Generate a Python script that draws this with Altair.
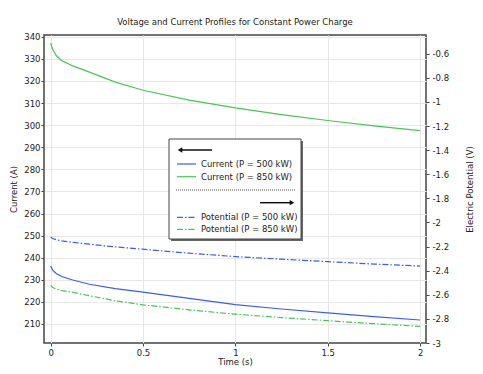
import altair as alt
import pandas as pd

# ---- data ----
t = [0, 0.01, 0.03, 0.06, 0.12, 0.21, 0.35, 0.5, 0.75, 1.0, 1.25, 1.5, 1.75, 2.0]
cur500 = [236.3, 234.5, 232.9, 231.5, 229.9, 228.0, 226.0, 224.4, 221.6, 218.8, 216.8, 215.0, 213.3, 211.8]
cur850 = [337.3, 334.5, 331.5, 329.2, 326.8, 324.0, 319.5, 315.8, 311.3, 307.8, 304.8, 302.1, 299.7, 297.5]
pot500 = [-2.121, -2.133, -2.143, -2.153, -2.165, -2.180, -2.203, -2.222, -2.255, -2.283, -2.305, -2.325, -2.345, -2.362]
pot850 = [-2.521, -2.538, -2.553, -2.565, -2.580, -2.608, -2.650, -2.683, -2.725, -2.761, -2.789, -2.815, -2.840, -2.862]

series = ["P = 500 kW", "P = 850 kW"]
x_ticks = [0, 0.5, 1, 1.5, 2]
left_ticks = list(range(210, 341, 10))
right_ticks = [-3, -2.8, -2.6, -2.4, -2.2, -2, -1.8, -1.6, -1.4, -1.2, -1, -0.8, -0.6]
legend_labels = ["Current (P = 500 kW)", "Current (P = 850 kW)",
                 "Potential (P = 500 kW)", "Potential (P = 850 kW)"]

BLUE = "#3d5cf2"
GREEN = "#4cc359"
FONT = "DejaVu Sans"
FS = 8.5

cur_df = pd.DataFrame({"t": t * 2, "I": cur500 + cur850,
                       "s": [series[0]] * len(t) + [series[1]] * len(t)})
pot_df = pd.DataFrame({"t": t * 2, "V": pot500 + pot850,
                       "s": [series[0]] * len(t) + [series[1]] * len(t)})

W, H = 382, 308
PLAIN = "'' + datum.value"

xenc = alt.X("t:Q", scale=alt.Scale(domain=[-0.036, 2.032], nice=False, zero=False),
             axis=alt.Axis(values=x_ticks, title="Time (s)", grid=True, labelFlush=False,
                           labelExpr=PLAIN, titleY=14, titleBaseline="top",
                           labelPadding=2, tickSize=3))
color = alt.Color("s:N", scale=alt.Scale(domain=series, range=[BLUE, GREEN]), legend=None)

currents = alt.Chart(cur_df).mark_line(strokeWidth=1.2).encode(
    x=xenc,
    y=alt.Y("I:Q", scale=alt.Scale(domain=[201.4, 340.8], nice=False, zero=False),
            axis=alt.Axis(orient="left", values=left_ticks, title="Current (A)", grid=True,
                          titleX=-31, titleY=H / 2, titleAngle=270, titleBaseline="middle",
                          tickSize=3, labelPadding=1, labelExpr=PLAIN)),
    color=color,
)

potentials = alt.Chart(pot_df).mark_line(strokeWidth=1.2, strokeDash=[6, 2, 1.5, 2]).encode(
    x=xenc,
    y=alt.Y("V:Q", scale=alt.Scale(domain=[-3, -0.445], nice=False, zero=False),
            axis=alt.Axis(orient="right", values=right_ticks, title="Electric Potential (V)",
                          grid=False, titleX=43, titleY=H / 2, titleAngle=270,
                          titleBaseline="middle", tickSize=3, labelPadding=3,
                          labelExpr=PLAIN)),
    color=color,
)

one = pd.DataFrame({"a": [0]})


def rect(x1, x2, y1, y2, **kw):
    return alt.Chart(one).mark_rect(**kw).encode(
        x=alt.value(x1), x2=alt.value(x2), y=alt.value(y1), y2=alt.value(y2))


def hline(x1, x2, y, **kw):
    return alt.Chart(one).mark_rule(**kw).encode(
        x=alt.value(x1), x2=alt.value(x2), y=alt.value(y))


def label(x, y, txt):
    return alt.Chart(one).mark_text(align="left", baseline="middle", font=FONT,
                                    fontSize=FS, color="#222").encode(
        x=alt.value(x), y=alt.value(y), text=alt.value(txt))


def head(x, y, shape):
    return alt.Chart(one).mark_point(shape=shape, filled=True, color="#111",
                                     size=28, opacity=1).encode(
        x=alt.value(x), y=alt.value(y))


legend_layers = [
    rect(127, 259, 106, 206, fill="#666666"),
    rect(125, 257, 104, 204, fill="white", stroke="#444444", strokeWidth=1),
    hline(136, 168, 115, color="#111", strokeWidth=1.5),
    head(136, 115, "triangle-left"),
    hline(133, 152, 129, color=BLUE, strokeWidth=1.2),
    label(157, 129, legend_labels[0]),
    hline(133, 152, 141.7, color=GREEN, strokeWidth=1.2),
    label(157, 141.7, legend_labels[1]),
    hline(132, 251, 155, color="#555", strokeWidth=1, strokeDash=[1, 1]),
    hline(216, 248, 167.7, color="#111", strokeWidth=1.5),
    head(248, 167.7, "triangle-right"),
    hline(133, 152, 182.3, color=BLUE, strokeWidth=1.2, strokeDash=[6, 2, 1.5, 2]),
    label(157, 182.3, legend_labels[2]),
    hline(133, 152, 194.3, color=GREEN, strokeWidth=1.2, strokeDash=[6, 2, 1.5, 2]),
    label(157, 194.3, legend_labels[3]),
]

chart = alt.layer(currents, potentials, *legend_layers).resolve_scale(
    y="independent"
).properties(
    width=W, height=H,
    title=alt.TitleParams("Voltage and Current Profiles for Constant Power Charge",
                          font=FONT, fontSize=FS, fontWeight="normal", color="#222",
                          offset=6),
    autosize=alt.AutoSizeParams(type="none"),
    padding={"left": 36, "top": 27, "right": 49, "bottom": 23},
).configure_view(
    stroke="#444444", strokeWidth=1.5
).configure_axis(
    labelFont=FONT, labelFontSize=FS, labelColor="#222",
    titleFont=FONT, titleFontSize=FS, titleFontWeight="normal", titleColor="#222",
    gridColor="#e8e8e8", gridWidth=1, domain=False, tickColor="#444",
)

chart.save("out.html", embed_options={"renderer": "svg", "actions": False})
